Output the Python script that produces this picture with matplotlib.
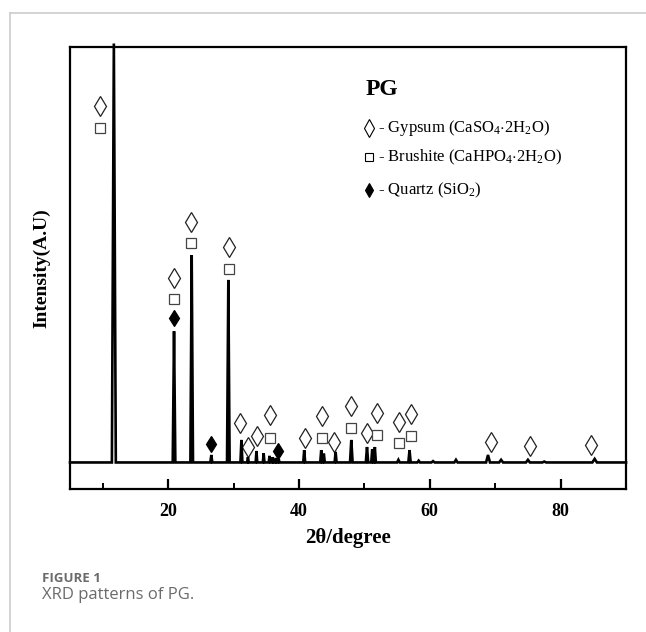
import numpy as np
import matplotlib
matplotlib.use("Agg")
import matplotlib.pyplot as plt
from matplotlib.lines import Line2D

plt.rcParams['font.family'] = ['Liberation Serif', 'DejaVu Serif']
plt.rcParams['mathtext.fontset'] = 'custom'
plt.rcParams['mathtext.rm'] = 'Liberation Serif'
plt.rcParams['mathtext.it'] = 'Liberation Serif:italic'
plt.rcParams['mathtext.bf'] = 'Liberation Serif:bold'

# XRD peaks (2theta, intensity, half width)
baseline = 60
peak_pos = [11.7, 20.9, 23.6, 26.6, 29.2, 31.2, 32.2, 33.5, 34.6, 35.5, 36.0, 36.5,
            36.9, 40.8, 43.4, 43.8, 45.6, 48.0, 50.4, 51.2, 51.6, 55.2, 56.9,
            58.3, 60.5, 64.0, 68.9, 70.9, 75.0, 77.5, 85.2]
peak_h = [1008, 357, 529, 77, 473, 111, 72, 86, 81, 75, 72, 70,
          68, 88, 88, 80, 84, 111, 95, 90, 95, 66, 88,
          64, 63, 66, 77, 66, 66, 62, 68]
peak_w = [0.3, 0.2, 0.2, 0.15, 0.2, 0.15, 0.12, 0.12, 0.12, 0.12, 0.12, 0.12,
          0.12, 0.15, 0.15, 0.15, 0.15, 0.2, 0.18, 0.15, 0.15, 0.2, 0.18,
          0.2, 0.25, 0.25, 0.3, 0.3, 0.3, 0.3, 0.35]

# phase markers
gypsum_x = [9.6, 20.9, 23.5, 29.3, 31.0, 32.2, 33.6, 35.6, 40.9, 43.5, 45.3,
            47.9, 50.4, 51.9, 55.3, 57.1, 69.3, 75.3, 84.7]
gypsum_y = [866, 477, 604, 548, 149, 95, 120, 167, 115, 165, 106,
            188, 127, 172, 152, 170, 106, 97, 100]
brushite_x = [9.6, 20.9, 23.5, 29.3, 35.6, 43.5, 47.9, 51.9, 55.3, 57.1]
brushite_y = [817, 430, 557, 498, 115, 115, 138, 122, 104, 120]
quartz_x = [20.9, 26.6, 36.8]
quartz_y = [387, 102, 86]

# build the pattern polyline from the peak list
xs = [5.0]
ys = [baseline]
for p, h, w in sorted(zip(peak_pos, peak_h, peak_w)):
    xs += [p - w, p, p + w]
    ys += [baseline, h, baseline]
xs.append(90.0)
ys.append(baseline)

fig = plt.figure(figsize=(6.46, 6.32), dpi=100)
ax = fig.add_axes([0.1084, 0.2263, 0.8607, 0.6993])

ax.plot(xs, ys, color='black', lw=1.9, solid_joinstyle='miter', clip_on=False, zorder=3)

ax.plot(gypsum_x, gypsum_y, ls='none', marker='d', ms=10, mfc='white', mec='#222222', mew=0.9)
ax.plot(brushite_x, brushite_y, ls='none', marker='s', ms=6.5, mfc='white', mec='#444444', mew=0.9)
ax.plot(quartz_x, quartz_y, ls='none', marker='d', ms=8.5, mfc='black', mec='black', mew=0.9)

ax.set_xlim(5, 90)
ax.set_ylim(0, 1000)
ax.set_yticks([])
ax.set_xticks([20, 40, 60, 80])
ax.set_xticks([10, 30, 50, 70], minor=True)
ax.tick_params(axis='x', which='major', direction='in', length=7, width=1.6, pad=10)
ax.tick_params(axis='x', which='minor', direction='in', length=4, width=1.4)
for lab in ax.get_xticklabels():
    lab.set_fontsize(13)
    lab.set_fontweight('bold')
for s in ax.spines.values():
    s.set_linewidth(1.6)

ax.set_xlabel('2θ/degree', fontsize=15, fontweight='bold', labelpad=6)
ax.set_ylabel('Intensity(A.U)', fontsize=14, fontweight='bold', labelpad=14)

# legend block
ax.text(0.531, 0.903, 'PG', transform=ax.transAxes, fontsize=17, fontweight='bold',
        va='center', ha='left')
rows = [(0.817, 'd', 'white', 9, r'- Gypsum (CaSO$_4$$\cdot$2H$_2$O)'),
        (0.751, 's', 'white', 6, r'- Brushite (CaHPO$_4$$\cdot$2H$_2$O)'),
        (0.676, 'd', 'black', 7.5, r'- Quartz (SiO$_2$)')]
for y, m, fc, ms, txt in rows:
    ax.plot([0.538], [y], transform=ax.transAxes, marker=m, ms=ms, mfc=fc, mec='black',
            mew=0.8, ls='none')
    ax.text(0.553, y, txt, transform=ax.transAxes, fontsize=12, va='center', ha='left')

# page frame and caption
fig.add_artist(Line2D([10/646, 1], [1 - 13/632, 1 - 13/632], color='#cccccc', lw=1.2))
fig.add_artist(Line2D([10/646, 10/646], [0, 1 - 13/632], color='#cccccc', lw=1.2))
fig.text(42/646, 1 - 578/632, 'FIGURE 1', fontsize=9.5, fontweight='bold', color='#6b6b6b',
         family=['Open Sans', 'DejaVu Sans'], va='center')
fig.text(42/646, 1 - 595/632, 'XRD patterns of PG.', fontsize=12, color='#6b6b6b',
         family=['Open Sans', 'DejaVu Sans'], va='center')

fig.savefig('out.png', dpi=100)
